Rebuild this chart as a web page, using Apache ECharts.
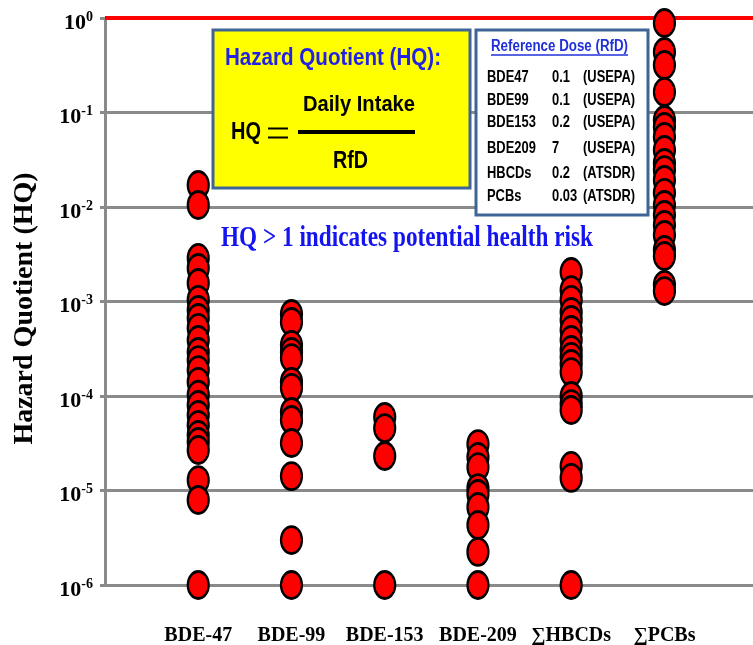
<!DOCTYPE html>
<html><head><meta charset="utf-8">
<script src="https://cdn.jsdelivr.net/npm/echarts@6/dist/echarts.min.js"></script>
<style>html,body{margin:0;padding:0;background:#fff}#c{width:753px;height:645px}</style>
</head><body><div id="c"></div>
<script>
const categories = ['BDE-47', 'BDE-99', 'BDE-153', 'BDE-209', '∑HBCDs', '∑PCBs'];
const bde47 = [1.71e-2, 1.05e-2, 2.89e-3, 2.26e-3, 1.57e-3, 1.04e-3, 8.13e-4, 6.69e-4, 5.25e-4, 3.91e-4, 2.92e-4, 2.40e-4, 1.88e-4, 1.41e-4, 1.03e-4, 8.03e-5, 6.30e-5, 4.93e-5, 3.87e-5, 3.26e-5, 2.68e-5, 1.29e-5, 7.93e-6, 1.0e-6];
const bde99 = [7.38e-4, 6.07e-4, 3.47e-4, 2.92e-4, 2.52e-4, 1.41e-4, 1.22e-4, 6.77e-5, 5.57e-5, 3.18e-5, 1.42e-5, 2.99e-6, 1.0e-6];
const bde153 = [6.0e-5, 4.58e-5, 2.32e-5, 1.0e-6];
const bde209 = [3.10e-5, 2.26e-5, 1.77e-5, 1.06e-5, 9.18e-6, 6.69e-6, 4.31e-6, 2.24e-6, 1.0e-6];
const hbcds = [2.05e-3, 1.32e-3, 1.04e-3, 7.74e-4, 6.37e-4, 4.99e-4, 3.91e-4, 3.07e-4, 2.59e-4, 2.18e-4, 1.79e-4, 1.0e-4, 8.22e-5, 7.11e-5, 1.82e-5, 1.36e-5, 1.0e-6];
const pcbs = [0.885, 0.437, 0.318, 0.165, 8.33e-2, 7.03e-2, 5.51e-2, 4.01e-2, 2.92e-2, 2.46e-2, 1.93e-2, 1.41e-2, 1.05e-2, 8.23e-3, 6.45e-3, 5.06e-3, 3.51e-3, 3.03e-3, 1.50e-3, 1.29e-3];
const seriesValues = [bde47, bde99, bde153, bde209, hbcds, pcbs];
const yTickValues = [1e-6, 1e-5, 1e-4, 1e-3, 1e-2, 1e-1, 1];
const yTickExponents = ['-6', '-5', '-4', '-3', '-2', '-1', '0'];
const riskThreshold = 1;
const rfdNames = ['BDE47', 'BDE99', 'BDE153', 'BDE209', 'HBCDs', 'PCBs'];
const rfdValues = ['0.1', '0.1', '0.2', '7', '0.2', '0.03'];
const rfdAgencies = ['(USEPA)', '(USEPA)', '(USEPA)', '(USEPA)', '(ATSDR)', '(ATSDR)'];

const SERIF = '"Liberation Serif", "Times New Roman", serif';
const SANS = '"Liberation Sans", Arial, sans-serif';
const mctx = document.createElement('canvas').getContext('2d');
function measure(text, size, family, weight) {
  mctx.font = weight + ' ' + size + 'px ' + family;
  return mctx.measureText(text).width;
}
function txt(text, x, y, size, family, color, targetW, scale, align) {
  const s = targetW ? targetW / measure(text, size, family, 'bold') : scale;
  return {
    type: 'text', x: x, y: y, scaleX: s, z: 20,
    style: { text: text, x: 0, y: 0, fontSize: size, fontFamily: family, fontWeight: 'bold',
      fill: color, align: align || 'left', verticalAlign: 'middle' }
  };
}
function hline(x1, x2, y, w, color) {
  return { type: 'line', z: 20, shape: { x1: x1, y1: y, x2: x2, y2: y }, style: { stroke: color, lineWidth: w } };
}

const ellipse = 'path://M10,0A10,10 0 1,1 10,20A10,10 0 1,1 10,0Z';
const series = seriesValues.map((vals, i) => ({
  type: 'scatter',
  name: categories[i],
  data: vals.map(v => [i + 1, v]),
  symbol: ellipse,
  symbolSize: [21, 27],
  clip: false,
  itemStyle: { color: '#ff0000', borderColor: '#000000', borderWidth: 2.5, opacity: 1 },
  z: 5
}));
series.push({
  type: 'scatter', data: [], silent: true,
  markLine: {
    silent: true, symbol: ['none', 'none'], label: { show: false },
    lineStyle: { color: '#ff0000', width: 4, type: 'solid' },
    data: [{ yAxis: riskThreshold }]
  }
});

const graphics = [
  { type: 'rect', z: 15, shape: { x: 213, y: 30, width: 257, height: 158 },
    style: { fill: '#ffff00', stroke: '#3f6496', lineWidth: 3 } },
  txt('Hazard Quotient (HQ):', 225, 58, 24, SANS, '#2222e6', 216),
  txt('Daily Intake', 303, 105, 22, SANS, '#000', 112),
  txt('HQ', 231, 133, 23, SANS, '#000', 30),
  txt('RfD', 333, 162, 23, SANS, '#000', 35),
  hline(298, 415, 132, 4, '#000'),
  hline(268, 288, 128.5, 2, '#000'),
  hline(268, 288, 137.5, 2, '#000'),
  { type: 'rect', z: 15, shape: { x: 476, y: 30, width: 172, height: 185 },
    style: { fill: '#ffffff', stroke: '#3f6496', lineWidth: 3 } },
  txt('Reference Dose (RfD)', 491, 47, 16, SANS, '#2030d8', 137),
  hline(491, 628, 55, 1.3, '#2030d8'),
  txt('HQ > 1 indicates potential health risk', 221, 238, 30, SERIF, '#1414f0', 372)
];
const rowY = [77, 100, 122, 148, 173, 196];
rfdNames.forEach((n, i) => {
  graphics.push(txt(n, 487, rowY[i], 17, SANS, '#000', null, 0.76));
  graphics.push(txt(rfdValues[i], 552, rowY[i], 17, SANS, '#000', null, 0.76));
  graphics.push(txt(rfdAgencies[i], 583, rowY[i], 17, SANS, '#000', null, 0.76));
});

const chart = echarts.init(document.getElementById('c'), null, { renderer: 'canvas' });
chart.setOption({
  animation: false,
  backgroundColor: '#ffffff',
  grid: { left: 105, right: 0, top: 18, bottom: 60, containLabel: false, outerBoundsMode: 'none' },
  xAxis: {
    type: 'value', min: 0, max: 6.95, interval: 1,
    axisLine: { show: false }, axisTick: { show: false }, splitLine: { show: false },
    axisLabel: {
      margin: 41, fontFamily: SERIF, fontWeight: 'bold', fontSize: 20, color: '#000',
      showMinLabel: true, showMaxLabel: true,
      formatter: v => (Number.isInteger(v) && v >= 1 && v <= categories.length) ? categories[v - 1] : ''
    }
  },
  yAxis: {
    type: 'log', logBase: 10, min: 1e-6, max: 1, interval: 1,
    name: 'Hazard Quotient (HQ)', nameLocation: 'middle', nameGap: 66,
    nameTextStyle: { fontFamily: SERIF, fontWeight: 'bold', fontSize: 28, color: '#000', padding: [0, 14, 0, 0] },
    axisLine: { show: true, lineStyle: { color: '#8a8a8a', width: 3 } },
    axisTick: { show: true, length: 5, lineStyle: { color: '#8a8a8a', width: 3 } },
    splitLine: { show: true, lineStyle: { color: '#8a8a8a', width: 3 } },
    axisLabel: {
      margin: 12,
      padding: [8, 0, 0, 0],
      formatter: v => {
        const i = yTickValues.findIndex(t => Math.abs(Math.log10(t) - Math.log10(v)) < 0.01);
        return i < 0 ? '' : '{b|10}{s|' + yTickExponents[i] + '}';
      },
      rich: {
        b: { fontFamily: SERIF, fontWeight: 'bold', fontSize: 22, color: '#000', verticalAlign: 'bottom' },
        s: { fontFamily: SERIF, fontWeight: 'bold', fontSize: 14, color: '#000', verticalAlign: 'bottom', padding: [0, 0, 10, 0] }
      }
    }
  },
  graphic: graphics,
  series: series
});
</script>
</body></html>
